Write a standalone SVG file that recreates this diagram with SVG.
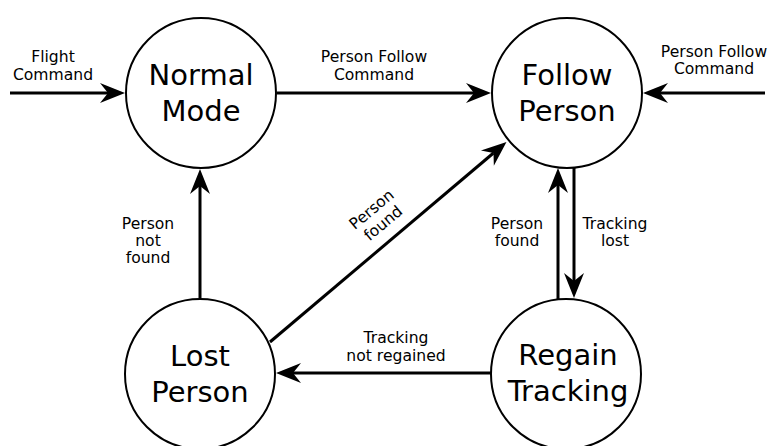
<svg xmlns="http://www.w3.org/2000/svg" width="771" height="446" viewBox="0 0 771 446">
<style>
.node{fill:#fff;stroke:#000;stroke-width:2}
.nl{font-family:"DejaVu Sans",sans-serif;font-size:29px;text-anchor:middle;fill:#000}
.el{font-family:"DejaVu Sans",sans-serif;font-size:15.6px;text-anchor:middle;fill:#000}
.edge{fill:none;stroke:#000;stroke-width:3}
</style>
<defs>
<marker id="arr" markerUnits="userSpaceOnUse" markerWidth="30" markerHeight="24" viewBox="-10 -12 30 24" refX="0" refY="0" orient="auto">
<path d="M17,0 L-8,-10 L0,0 L-8,10 Z" fill="#000"/>
</marker>
</defs>
<rect width="771" height="446" fill="#fff"/>
<g id="connectors">
<line class="edge" x1="10" y1="93" x2="108" y2="93" marker-end="url(#arr)"/>
<line class="edge" x1="277" y1="93" x2="474" y2="93" marker-end="url(#arr)"/>
<line class="edge" x1="765" y1="93" x2="660" y2="93" marker-end="url(#arr)"/>
<line class="edge" x1="200" y1="298" x2="200" y2="186" marker-end="url(#arr)"/>
<line class="edge" x1="270" y1="342" x2="493.5" y2="153" marker-end="url(#arr)"/>
<line class="edge" x1="558" y1="299" x2="558" y2="185" marker-end="url(#arr)"/>
<line class="edge" x1="574" y1="168" x2="574" y2="281" marker-end="url(#arr)"/>
<line class="edge" x1="491" y1="373" x2="293" y2="373" marker-end="url(#arr)"/>
<text class="el" x="53" y="62">Flight</text>
<text class="el" x="53" y="80">Command</text>
<text class="el" x="374" y="62">Person Follow</text>
<text class="el" x="374" y="80">Command</text>
<text class="el" x="714" y="57">Person Follow</text>
<text class="el" x="714" y="74">Command</text>
<text class="el" x="148" y="229">Person</text>
<text class="el" x="148" y="246">not</text>
<text class="el" x="148" y="263">found</text>
<g transform="translate(377.5,216.5) rotate(-40)">
<text class="el" x="0" y="-4">Person</text>
<text class="el" x="0" y="14">found</text>
</g>
<text class="el" x="517" y="229">Person</text>
<text class="el" x="517" y="246">found</text>
<text class="el" x="615" y="229">Tracking</text>
<text class="el" x="615" y="246">lost</text>
<text class="el" x="396" y="343">Tracking</text>
<text class="el" x="396" y="361">not regained</text>
</g>
<g id="normal-mode">
<circle class="node" cx="201" cy="93" r="75"/>
<text class="nl" x="201" y="85">Normal</text>
<text class="nl" x="201" y="121">Mode</text>
</g>
<g id="follow-person">
<circle class="node" cx="567" cy="93" r="75"/>
<text class="nl" x="567" y="85">Follow</text>
<text class="nl" x="567" y="121">Person</text>
</g>
<g id="lost-person">
<circle class="node" cx="200" cy="374" r="75"/>
<text class="nl" x="200" y="366">Lost</text>
<text class="nl" x="200" y="402">Person</text>
</g>
<g id="regain-tracking">
<circle class="node" cx="566" cy="374" r="75"/>
<text class="nl" x="568" y="365">Regain</text>
<text class="nl" x="568" y="401">Tracking</text>
</g>
</svg>
